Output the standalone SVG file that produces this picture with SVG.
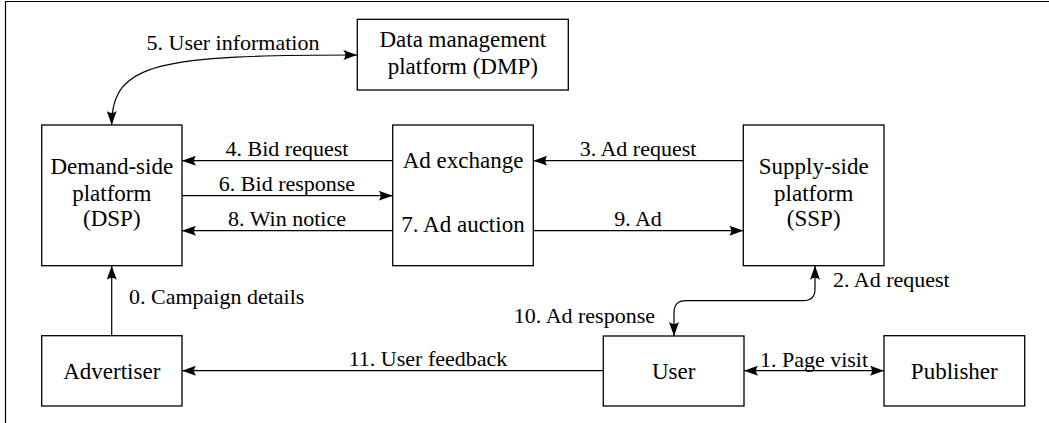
<svg xmlns="http://www.w3.org/2000/svg" width="1049" height="423" viewBox="0 0 1049 423">
<defs>
<style>
.box{fill:#fff;stroke:#000;stroke-width:1.3}
.t{font-size:23px;fill:#000;text-anchor:middle}
.l{font-size:22px;fill:#000;text-anchor:middle}
.c{fill:none;stroke:#000;stroke-width:1.2}
</style>
<marker id="ah" viewBox="0 0 14 10" refX="14" refY="5" markerWidth="14" markerHeight="10" markerUnits="userSpaceOnUse" orient="auto-start-reverse">
<path d="M0,0 Q4,5 0,10 L14,5 Z" fill="#000"/>
</marker>
</defs>
<rect width="1049" height="423" fill="#fff"/>
<path d="M5.5,423 L5.5,1.5 L1049,1.5" fill="none" stroke="#000" stroke-width="1.2"/>

<g id="connectors" font-family="'Liberation Serif', 'DejaVu Serif', 'Times New Roman', serif">
<path class="c" d="M357.3,55 C160,55 111.7,62 111.7,125" marker-start="url(#ah)" marker-end="url(#ah)"/>
<path class="c" d="M392.7,160.7 L182,160.7" marker-end="url(#ah)"/>
<path class="c" d="M182,195.7 L392.7,195.7" marker-end="url(#ah)"/>
<path class="c" d="M392.7,230.7 L182,230.7" marker-end="url(#ah)"/>
<path class="c" d="M743.3,160.7 L533.3,160.7" marker-end="url(#ah)"/>
<path class="c" d="M533.3,230.7 L743.3,230.7" marker-end="url(#ah)"/>
<path class="c" d="M111.7,335.7 L111.7,265.7" marker-end="url(#ah)"/>
<path class="c" d="M603.3,370.7 L182,370.7" marker-end="url(#ah)"/>
<path class="c" d="M744,370.7 L884,370.7" marker-start="url(#ah)" marker-end="url(#ah)"/>
<path class="c" d="M815,265.7 L815,289 C815,297 811,300.7 803,300.7 L686,300.7 C678,300.7 674,304 674,313 L674,336" marker-start="url(#ah)" marker-end="url(#ah)"/>
<text class="l" x="233" y="50">5. User information</text>
<text class="l" x="287" y="156">4. Bid request</text>
<text class="l" x="287" y="191">6. Bid response</text>
<text class="l" x="287" y="226">8. Win notice</text>
<text class="l" x="638" y="156">3. Ad request</text>
<text class="l" x="638" y="226">9. Ad</text>
<text class="l" x="129" y="304" style="text-anchor:start">0. Campaign details</text>
<text class="l" x="428" y="366">11. User feedback</text>
<text class="l" x="814" y="367">1. Page visit</text>
<text class="l" x="833" y="287" style="text-anchor:start">2. Ad request</text>
<text class="l" x="655" y="323" style="text-anchor:end">10. Ad response</text>
</g>

<g font-family="'Liberation Serif', 'DejaVu Serif', 'Times New Roman', serif">
<g id="dmp">
<rect class="box" x="357.3" y="19.3" width="211" height="70.7"/>
<text class="t" x="462.8" y="46.7">Data management</text>
<text class="t" x="462.8" y="74">platform (DMP)</text>
</g>
<g id="dsp">
<rect class="box" x="41.7" y="125" width="140.3" height="140.7"/>
<text class="t" x="111.8" y="174">Demand-side</text>
<text class="t" x="111.8" y="200.7">platform</text>
<text class="t" x="111.8" y="226">(DSP)</text>
</g>
<g id="adx">
<rect class="box" x="392.7" y="125" width="140.6" height="140.7"/>
<text class="t" x="463" y="168">Ad exchange</text>
<text class="t" x="463" y="232">7. Ad auction</text>
</g>
<g id="ssp">
<rect class="box" x="743.3" y="125" width="140.7" height="140.7"/>
<text class="t" x="813.7" y="174">Supply-side</text>
<text class="t" x="813.7" y="200.7">platform</text>
<text class="t" x="813.7" y="226">(SSP)</text>
</g>
<g id="advertiser">
<rect class="box" x="41.7" y="335.7" width="140.3" height="70.3"/>
<text class="t" x="111.8" y="379.3">Advertiser</text>
</g>
<g id="user">
<rect class="box" x="603.3" y="336" width="140.7" height="70"/>
<text class="t" x="673.7" y="379.3">User</text>
</g>
<g id="publisher">
<rect class="box" x="884" y="335.7" width="140.7" height="70.3"/>
<text class="t" x="954.3" y="379.3">Publisher</text>
</g>
</g>
</svg>
